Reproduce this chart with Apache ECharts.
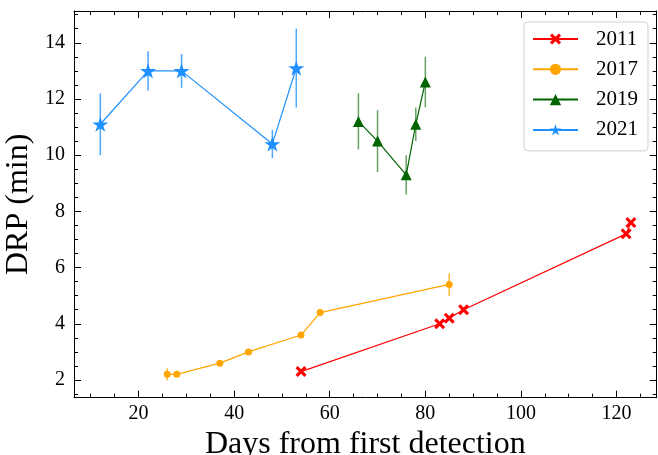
<!DOCTYPE html>
<html>
<head>
<meta charset="utf-8">
<script src="https://cdn.jsdelivr.net/npm/echarts@6/dist/echarts.min.js"></script>
<style>
html,body{margin:0;padding:0;background:#fff;}
#chart{width:658px;height:455px;}
</style>
</head>
<body>
<div id="chart"></div>
<script>
// ---- data ----
const days2011 = [54, 83, 85, 88, 122, 123];
const drp2011  = [2.3, 4.0, 4.2, 4.5, 7.2, 7.6];
const err2011  = [0, 0, 0, 0, 0, 0];

const days2017 = [26, 28, 37, 43, 54, 58, 85];
const drp2017  = [2.2, 2.2, 2.6, 3.0, 3.6, 4.4, 5.4];
const err2017  = [0.22, 0, 0, 0, 0, 0, 0.4];

const days2019 = [66, 70, 76, 78, 80];
const drp2019  = [11.2, 10.5, 9.3, 11.1, 12.6];
const err2019  = [1.0, 1.1, 0.7, 0.6, 0.9];

const days2021 = [12, 22, 29, 48, 53];
const drp2021  = [11.1, 13.0, 13.0, 10.4, 13.1];
const err2021  = [1.1, 0.7, 0.6, 0.5, 1.4];

const xTicks = [20, 40, 60, 80, 100, 120];
const yTicks = [2, 4, 6, 8, 10, 12, 14];

// ---- styling ----
const FONT = '"Liberation Serif", "Times New Roman", serif';
const X_SYMBOL = 'path://M2,0 L5,3 L8,0 L10,2 L7,5 L10,8 L8,10 L5,7 L2,10 L0,8 L3,5 L0,2 Z';
const STAR_SYMBOL = 'path://M50,0 L61.23,34.55 L97.55,34.55 L68.17,55.9 L79.39,90.45 L50,69.1 L20.61,90.45 L31.83,55.9 L2.45,34.55 L38.77,34.55 Z';

function pairs(xs, ys) { return xs.map((x, i) => [x, ys[i]]); }
function triples(xs, ys, es) { return xs.map((x, i) => [x, ys[i], es[i]]); }

function errSeries(name, xs, ys, es, color, width) {
  return {
    name: name,
    type: 'custom',
    data: triples(xs, ys, es),
    z: 1,
    silent: true,
    renderItem: function (params, api) {
      const x = api.value(0), y = api.value(1), e = api.value(2);
      if (!e) return null;
      const top = api.coord([x, y + e]);
      const bot = api.coord([x, y - e]);
      return {
        type: 'line',
        shape: { x1: top[0], y1: top[1], x2: bot[0], y2: bot[1] },
        style: { stroke: color, lineWidth: width }
      };
    }
  };
}

function lineSeries(name, xs, ys, color, symbol, size) {
  return {
    name: name,
    type: 'line',
    data: pairs(xs, ys),
    symbol: symbol,
    symbolSize: size,
    symbolKeepAspect: true,
    showAllSymbol: true,
    z: 3,
    lineStyle: { color: color, width: 1.2 },
    itemStyle: { color: color, borderWidth: 0 },
    emphasis: { disabled: true },
    animation: false
  };
}

const axisCommon = {
  type: 'value',
  axisLine: { show: true, onZero: false, lineStyle: { color: '#000', width: 1 } },
  axisTick: { show: true, inside: true, length: 7, lineStyle: { color: '#000', width: 1 } },
  minorTick: { show: true, splitNumber: 4, length: 4, lineStyle: { color: '#000', width: 1 } },
  splitLine: { show: false },
  minorSplitLine: { show: false }
};

const X_MIN = 6.5, X_MAX = 128.4, Y_MIN = 1.37, Y_MAX = 15.13;

const chart = echarts.init(document.getElementById('chart'), null, { renderer: 'canvas' });
chart.setOption({
  animation: false,
  backgroundColor: '#fff',
  grid: { left: 74, right: 1.3, top: 11, bottom: 57.3, containLabel: false, outerBoundsMode: 'none' },
  xAxis: [
    Object.assign({}, axisCommon, {
      position: 'bottom',
      min: X_MIN, max: X_MAX,
      minInterval: xTicks[1] - xTicks[0], maxInterval: xTicks[1] - xTicks[0],
      name: 'Days from first detection',
      nameLocation: 'middle',
      nameGap: 23,
      nameTextStyle: { fontFamily: FONT, fontSize: 32, color: '#000' },
      axisLabel: { show: true, margin: 6, fontFamily: FONT, fontSize: 20, color: '#000',
        showMinLabel: false, showMaxLabel: false,
        formatter: function (v) { return xTicks.indexOf(v) >= 0 ? String(v) : ''; } }
    }),
    Object.assign({}, axisCommon, {
      position: 'top',
      min: X_MIN, max: X_MAX,
      minInterval: 20, maxInterval: 20,
      axisLabel: { show: false }
    })
  ],
  yAxis: [
    Object.assign({}, axisCommon, {
      position: 'left',
      min: Y_MIN, max: Y_MAX,
      minInterval: yTicks[1] - yTicks[0], maxInterval: yTicks[1] - yTicks[0],
      name: 'DRP (min)',
      nameLocation: 'middle',
      nameGap: 38,
      nameRotate: 90,
      nameTextStyle: { fontFamily: FONT, fontSize: 32, color: '#000' },
      axisLabel: { show: true, margin: 9, fontFamily: FONT, fontSize: 20, color: '#000',
        showMinLabel: false, showMaxLabel: false,
        formatter: function (v) { return yTicks.indexOf(v) >= 0 ? String(v) : ''; } }
    }),
    Object.assign({}, axisCommon, {
      position: 'right',
      min: Y_MIN, max: Y_MAX,
      minInterval: 2, maxInterval: 2,
      axisLabel: { show: false }
    })
  ],
  legend: {
    data: ['2011', '2017', '2019', '2021'],
    orient: 'vertical',
    left: 524,
    top: 22,
    width: 122,
    padding: [6, 10, 10, 8],
    itemGap: 8.3,
    itemWidth: 45,
    itemHeight: 14,
    backgroundColor: '#fff',
    borderColor: '#d0d0d0',
    borderWidth: 1,
    borderRadius: 4,
    selectedMode: false,
    textStyle: { fontFamily: FONT, fontSize: 21, color: '#000', lineHeight: 22, padding: [0, 0, 0, 13] }
  },
  series: [
    errSeries('e2011', days2011, drp2011, err2011, 'rgba(255,0,0,0.7)', 1.5),
    errSeries('e2017', days2017, drp2017, err2017, 'rgba(255,165,0,0.8)', 1.5),
    errSeries('e2019', days2019, drp2019, err2019, 'rgba(0,100,0,0.6)', 1.5),
    errSeries('e2021', days2021, drp2021, err2021, 'rgba(30,144,255,0.8)', 1.5),
    lineSeries('2011', days2011, drp2011, '#ff0000', X_SYMBOL, 11),
    lineSeries('2017', days2017, drp2017, '#ffa500', 'circle', 7),
    lineSeries('2019', days2019, drp2019, '#006400', 'triangle', 11),
    lineSeries('2021', days2021, drp2021, '#1e90ff', STAR_SYMBOL, 16)
  ]
});
</script>
</body>
</html>
